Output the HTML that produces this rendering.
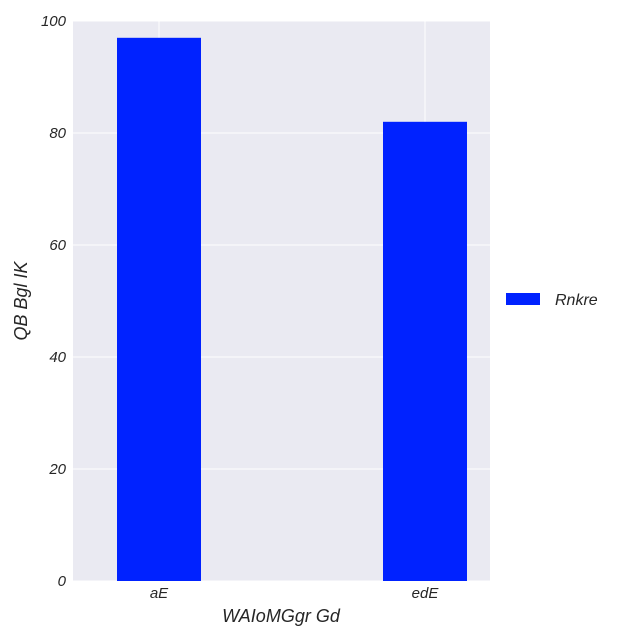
<!DOCTYPE html>
<html><head><meta charset="utf-8"><style>
html,body{margin:0;background:#fff;overflow:hidden;}
svg{display:block;}
svg text{font-family:"Liberation Sans",sans-serif;font-style:italic;fill:#262626;}
</style></head><body>
<svg width="640" height="640">
<rect x="73" y="21" width="417" height="560" fill="#eaeaf2"/>
<g id="grid"></g><g id="bars"></g><g id="ticks"></g>
<text x="281" y="622" font-size="18" text-anchor="middle">WAIoMGgr Gd</text>
<text x="27" y="301" font-size="18" text-anchor="middle" transform="rotate(-90 27 301)">QB Bgl IK</text>
<g>
<rect x="506" y="293" width="34" height="12" fill="#0022ff"/>
<text x="555" y="305" font-size="16">Rnkre</text>
</g>
</svg>
<script>
const categories=["aE","edE"];
const values=[97,82];
const yTicks=[0,20,40,60,80,100];
const ns="http://www.w3.org/2000/svg";
const y=v=>581-v*5.6;
const x=i=>159+266*i;
const g=document.getElementById("grid"),b=document.getElementById("bars"),t=document.getElementById("ticks");
function mk(tag,attrs,parent){const e=document.createElementNS(ns,tag);for(const k in attrs)e.setAttribute(k,attrs[k]);parent.appendChild(e);return e;}
yTicks.forEach(v=>{
 const l=mk("line",{x1:73,x2:490,y1:y(v),y2:y(v),stroke:"#fff","stroke-width":1},g);
 
 
 const tx=mk("text",{x:66,y:y(v)+5,"font-size":15,"text-anchor":"end"},t);
 tx.textContent=v;
 
 
});
categories.forEach((c,i)=>{
 const l=mk("line",{x1:x(i),x2:x(i),y1:21,y2:581,stroke:"#fff","stroke-width":1},g);
 
 
 const r=mk("rect",{x:x(i)-42,y:y(values[i]),width:84,height:581-y(values[i]),fill:"#0022ff"},b);
 
 
 const tx=mk("text",{x:x(i),y:598,"font-size":15,"text-anchor":"middle"},t);
 tx.textContent=c;
 
 
});
</script>
</body></html>
